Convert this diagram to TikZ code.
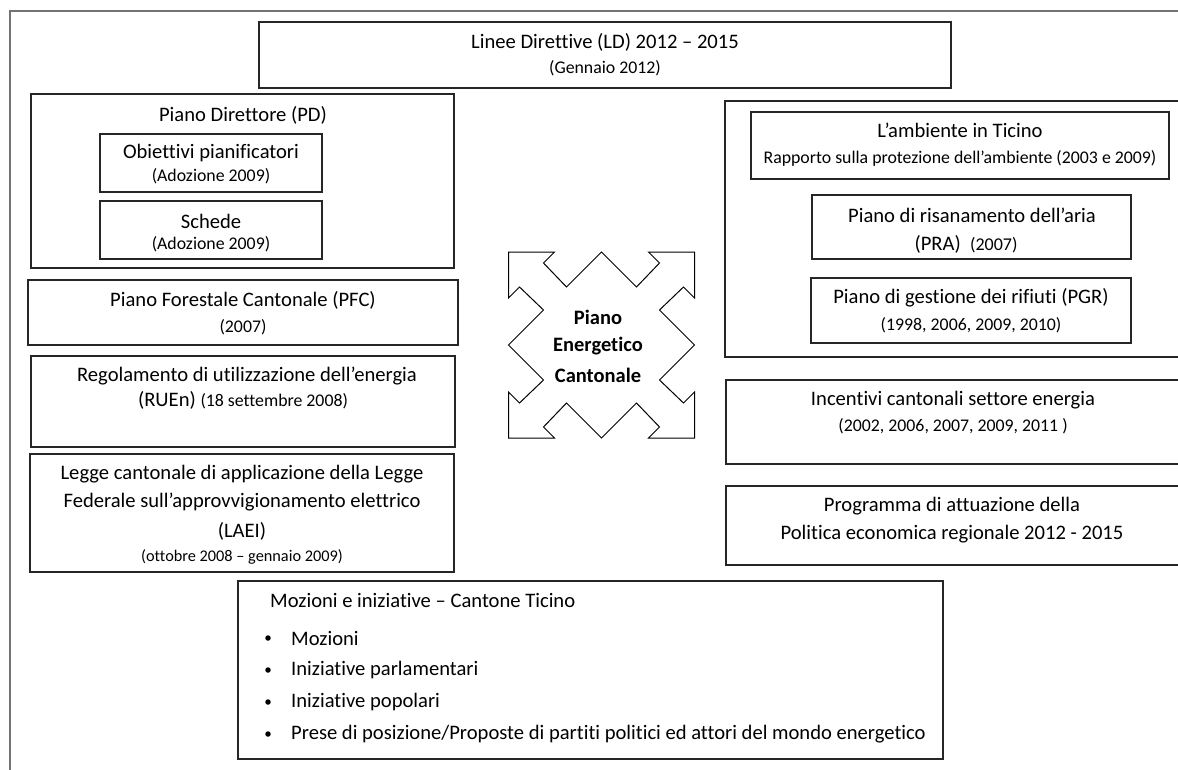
\documentclass[tikz,border=0pt]{standalone}
\usepackage{fontspec}
\setmainfont{Carlito}[Ligatures={NoCommon}]
\newcommand\mybox[5]{\node[box, minimum width={(#4)-(#2)}, minimum height={(#5)-(#3)}] (#1) at (#2,#3) {};}
\begin{document}
\begin{tikzpicture}[x=1pt,y=-1pt,
  box/.style={draw=black!85, line width=1.1pt, rectangle, inner sep=0pt, outer sep=0pt, anchor=north west},
  T/.style={inner sep=0pt, font=\fontsize{20.6}{24}\selectfont},
  S/.style={inner sep=0pt, font=\fontsize{17.8}{21}\selectfont},
  XS/.style={inner sep=0pt, font=\fontsize{16.3}{19}\selectfont},
  B/.style={inner sep=0pt, font=\fontsize{20.5}{24}\selectfont\bfseries},
  dot/.style={circle, fill=black, inner sep=0pt, minimum size=5.5pt}
]
\useasboundingbox (0,0) rectangle (1178,769);
\clip (0,0) rectangle (1178,769);
% outer frame
\node[box, draw=black!55, line width=1.6pt, minimum width=1210, minimum height=810] (outer) at (10,11) {};
% Linee Direttive
\mybox{ld}{259}{22}{951}{88}
\node[T] (ld1) at (605,42) {Linee Direttive (LD) 2012 – 2015};
\node[S] (ld2) at (605,68) {(Gennaio 2012)};
% Piano Direttore
\mybox{pd}{31}{94}{454}{268}
\node[T] (pd1) at (243,115) {Piano Direttore (PD)};
\mybox{ob}{100}{134}{322}{192}
\node[T] (ob1) at (211,153) {Obiettivi pianificatori};
\node[S] (ob2) at (211,176) {(Adozione 2009)};
\mybox{sc}{100}{201}{322}{259}
\node[T] (sc1) at (211,221) {Schede};
\node[S] (sc2) at (211,244) {(Adozione 2009)};
% PFC
\mybox{pfc}{28}{280}{458}{345}
\node[T] (pfc1) at (243,300) {Piano Forestale Cantonale (PFC)};
\node[S] (pfc2) at (243,327) {(2007)};
% RUEn
\mybox{ru}{31}{356}{455}{447}
\node[T] (ru1) at (247,376) {Regolamento di utilizzazione dell’energia};
\node[T] (ru2) at (243,400) {(RUEn) {\fontsize{17.8}{21}\selectfont(18 settembre 2008)}};
% LAEI
\mybox{la}{30}{454}{454}{572}
\node[T] (la1) at (242,474) {Legge cantonale di applicazione della Legge};
\node[T] (la2) at (242,502) {Federale sull’approvvigionamento elettrico};
\node[T] (la3) at (242,531) {(LAEI)};
\node[XS] (la4) at (242,557) {(ottobre 2008 – gennaio 2009)};
% right group
\mybox{grp}{725}{101}{1220}{357}
\mybox{amb}{751}{112}{1169}{179}
\node[T] (amb1) at (960,130) {L’ambiente in Ticino};
\node[S] (amb2) at (960,158) {Rapporto sulla protezione dell’ambiente (2003 e 2009)};
\mybox{pra}{812}{195}{1131}{259}
\node[T] (pra1) at (972,215) {Piano di risanamento dell’aria};
\node[T] (pra2) at (966,244) {(PRA)\ \ {\fontsize{18}{21}\selectfont(2007)}};
\mybox{pgr}{811}{278}{1131}{343}
\node[T] (pgr1) at (971,298) {Piano di gestione dei rifiuti (PGR)};
\node[S] (pgr2) at (971,325) {(1998, 2006, 2009, 2010)};
% Incentivi
\mybox{inc}{726}{380}{1220}{464}
\node[T] (inc1) at (953,400) {Incentivi cantonali settore energia};
\node[S] (inc2) at (953,426) {(2002, 2006, 2007, 2009, 2011 )};
% Programma
\mybox{prg}{726}{486}{1220}{565}
\node[T] (prg1) at (952,506) {Programma di attuazione della};
\node[T] (prg2) at (952,534) {Politica economica regionale 2012 - 2015};
% Mozioni
\mybox{moz}{238}{581}{943}{759}
\node[T, anchor=west] (moz0) at (270,600) {Mozioni e iniziative – Cantone Ticino};
\node[dot] (b1) at (268,638) {};
\node[T, anchor=west] (m1) at (291,638) {Mozioni};
\node[dot] (b2) at (268,670) {};
\node[T, anchor=west] (m2) at (291,670) {Iniziative parlamentari};
\node[dot] (b3) at (268,702) {};
\node[T, anchor=west] (m3) at (291,702) {Iniziative popolari};
\node[dot] (b4) at (268,734) {};
\node[T, anchor=west] (m4) at (291,734) {Prese di posizione/Proposte di partiti politici ed attori del mondo energetico};
% central shape
\coordinate (pec) at (601.5,345);
\begin{scope}[shift={(pec)}]
\draw[black, line width=1pt, line join=miter]
 (-93,-93) -- (-47,-93) -- (-58,-82) -- (-35,-58) -- (0,-93) -- (35,-58) -- (58,-82) -- (47,-93)
 -- (93,-93) -- (93,-47) -- (82,-58) -- (58,-35) -- (93,0) -- (58,35) -- (82,58) -- (93,47)
 -- (93,93) -- (47,93) -- (58,82) -- (35,58) -- (0,93) -- (-35,58) -- (-58,82) -- (-47,93)
 -- (-93,93) -- (-93,47) -- (-82,58) -- (-58,35) -- (-93,0) -- (-58,-35) -- (-82,-58) -- (-93,-47) -- cycle;
\end{scope}
\node[B] (pec1) at (598,317) {Piano};
\node[B] (pec2) at (598,346) {Energetico};
\node[B] (pec3) at (598,375) {Cantonale};
\end{tikzpicture}
\end{document}
